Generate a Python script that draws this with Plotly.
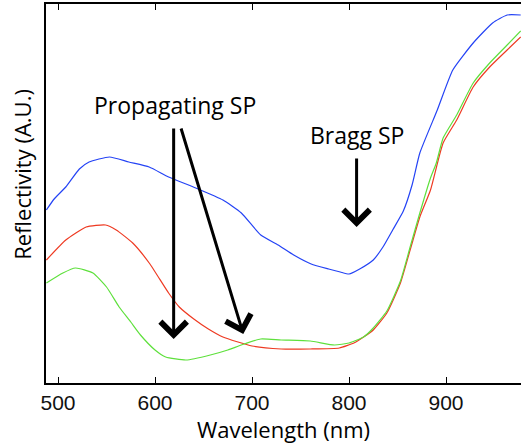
import plotly.graph_objects as go

wl_blue = [488, 496, 508, 522, 532, 553, 573, 594, 614, 642, 670, 689, 709, 727, 743, 761, 779, 791, 800, 811, 825, 835, 845, 856, 865, 873, 891, 907, 928, 948, 963, 977]
refl_blue = [173, 184, 196, 214, 221, 226, 221, 216, 206, 195, 183, 170, 148, 138, 128, 119, 114, 111, 109, 114, 123, 136, 153, 172, 198, 230, 273, 313, 340, 360, 368, 368]

wl_red = [488, 508, 529, 549, 560, 577, 594, 614, 625, 640, 655, 670, 700, 730, 760, 790, 805, 815, 825, 839, 853, 863, 873, 884, 897, 911, 928, 945, 963, 977]
refl_red = [123, 143, 156, 158, 153, 140, 120, 90, 76, 64, 54, 46, 37, 34, 34, 35, 40, 46, 53, 70, 100, 133, 166, 193, 240, 263, 296, 316, 333, 346]

wl_green = [488, 505, 518, 536, 550, 563, 575, 585, 600, 611, 632, 657, 675, 689, 709, 730, 760, 785, 800, 815, 825, 839, 853, 863, 873, 884, 890, 897, 911, 928, 945, 963, 977]
refl_green = [100, 110, 115, 110, 96, 76, 61, 48, 33, 26, 23, 28, 33, 38, 44, 43, 42, 38, 40, 46, 55, 72, 102, 136, 170, 205, 220, 245, 268, 300, 320, 338, 352]

x_ticks = [500, 600, 700, 800, 900]
x_range = [487.6, 977.3]
y_range = [0, 379]

fig = go.Figure()
for xs, ys, col in [(wl_blue, refl_blue, "#2443f5"), (wl_red, refl_red, "#ee3a22"), (wl_green, refl_green, "#5ee03c")]:
    fig.add_trace(go.Scatter(x=xs, y=ys, mode="lines", line=dict(color=col, width=1.2, shape="spline", smoothing=0.5), showlegend=False))

arrow = dict(showarrow=True, arrowhead=4, arrowsize=1.7, arrowwidth=3, arrowcolor="black",
             xref="x", yref="y", axref="x", ayref="y", text="")
fig.add_annotation(x=807.8, y=156, ax=807.8, ay=226, **arrow)
fig.add_annotation(x=619.2, y=44, ax=619.2, ay=256, **arrow)
fig.add_annotation(x=691, y=49, ax=626.4, ay=256, **arrow)

lab_font = dict(family="Open Sans", size=23, color="black")
fig.add_annotation(x=621, y=278, text="Propagating SP", showarrow=False, font=lab_font, xref="x", yref="y")
fig.add_annotation(x=808, y=248, text="Bragg SP", showarrow=False, font=lab_font, xref="x", yref="y")
fig.add_annotation(x=-0.052, y=0.55, xref="paper", yref="paper", text="Reflectivity (A.U.)", textangle=-90,
                   showarrow=False, font=dict(family="Open Sans", size=22, color="black"), xanchor="center", yanchor="middle")

fig.update_layout(
    width=521, height=444,
    margin=dict(l=46, r=0, t=4, b=61),
    plot_bgcolor="white", paper_bgcolor="white",
    xaxis=dict(range=x_range, tickvals=x_ticks, ticks="inside", ticklen=6, tickcolor="black", tickwidth=1,
               showline=True, linecolor="black", linewidth=1.5, mirror="ticks", showgrid=False, zeroline=False,
               tickfont=dict(family="Liberation Sans", size=21, color="#111"),
               title=dict(text="Wavelength (nm)", font=dict(family="Open Sans", size=22, color="black"), standoff=6)),
    yaxis=dict(range=y_range, showticklabels=False, ticks="", showline=True, linecolor="black", linewidth=1.5,
               mirror=False, showgrid=False, zeroline=False),
)
fig.write_html("out.html")
